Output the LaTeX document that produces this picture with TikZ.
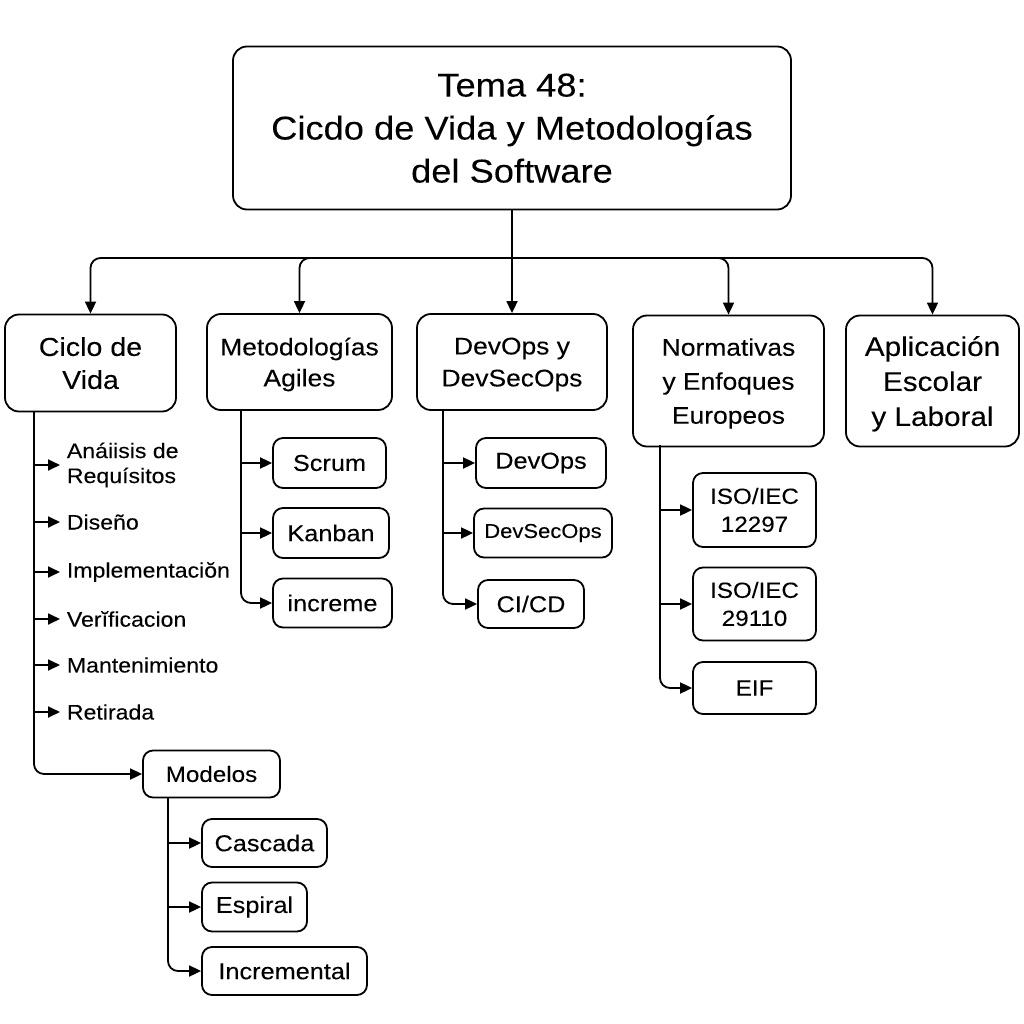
\documentclass[tikz,border=0pt]{standalone}
\usepackage{fontspec}
\setmainfont{Liberation Sans}[FakeStretch=1.1,FakeBold=0.1]
\usetikzlibrary{arrows.meta}

\begin{document}
\begin{tikzpicture}[x=1pt,y=-1pt,line width=1.8pt,
  >={Triangle[length=12pt,width=11pt]},
  topbox/.style={draw,rounded corners=14pt,align=center,inner sep=2pt,text depth=0pt},
  subbox/.style={draw,rounded corners=10pt,align=center,inner sep=2pt,font=\fontsize{23}{28}\selectfont},
  item/.style={anchor=west,align=left,inner sep=6pt,font=\fontsize{21}{25}\selectfont}]
\useasboundingbox (0,0) rectangle (1024,1024);

\node[topbox,minimum width=558pt,minimum height=163pt,font=\fontsize{33}{43}\selectfont] (tema) at (512,128) {Tema 48:\\Cicdo de Vida y Metodologías\\del Software};

\node[topbox,minimum width=171pt,minimum height=97pt,font=\fontsize{26}{33}\selectfont] (ciclo) at (90.5,363) {Ciclo de\\Vida};
\node[topbox,minimum width=185pt,minimum height=96pt,font=\fontsize{24}{31}\selectfont] (metod) at (299.5,362) {Metodologías\\Agiles};
\node[topbox,minimum width=190pt,minimum height=96pt,font=\fontsize{24}{32}\selectfont] (devsec) at (512,362) {DevOps y\\DevSecOps};
\node[topbox,minimum width=191pt,minimum height=131pt,font=\fontsize{24}{34}\selectfont] (normas) at (728.5,381) {Normativas\\y Enfoques\\Europeos};
\node[topbox,minimum width=173pt,minimum height=131pt,font=\fontsize{27}{35}\selectfont] (aplic) at (932.5,381) {Aplicación\\Escolar\\y Laboral};

\coordinate (hub) at (512,258);
\draw (tema) -- (hub);
\draw[->,rounded corners=10pt] (hub) -| (ciclo);
\draw[->,rounded corners=10pt] (hub) -| (metod);
\draw[->] (hub) -- (devsec);
\draw[->,rounded corners=10pt] (hub) -| (normas);
\draw[->,rounded corners=10pt] (hub) -| (aplic);

\node[item] (analisis) at (60,465) {Anáiisis de\\Requísitos};
\node[item] (diseno) at (60,522) {Diseño};
\node[item] (implem) at (60,572) {Implementaciŏn};
\node[item] (verif) at (60,619) {Verĭficacion};
\node[item] (mant) at (60,665) {Mantenimiento};
\node[item] (retir) at (60,712) {Retirada};
\node[subbox,minimum width=137pt,minimum height=47pt,font=\fontsize{22}{26}\selectfont] (modelos) at (211.5,774) {Modelos};

\coordinate (cv) at (34,411);
\draw[->,rounded corners=10pt] (cv) |- (modelos);
\foreach \n in {analisis,diseno,implem,verif,mant,retir}
  \draw[->] (cv |- \n.west) -- (\n.west);

\node[subbox,minimum width=125pt,minimum height=48pt] (cascada) at (264.5,843) {Cascada};
\node[subbox,minimum width=105pt,minimum height=49pt] (espiral) at (254.5,907) {Espiral};
\node[subbox,minimum width=165pt,minimum height=48pt] (increm) at (284.5,971) {Incremental};

\coordinate (md) at (168,797);
\draw[->,rounded corners=10pt] (md) |- (increm);
\foreach \n in {cascada,espiral}
  \draw[->] (md |- \n.west) -- (\n.west);

\node[subbox,minimum width=113pt,minimum height=50pt] (scrum) at (329.5,463) {Scrum};
\node[subbox,minimum width=116pt,minimum height=50pt] (kanban) at (331,533) {Kanban};
\node[subbox,minimum width=119pt,minimum height=49pt] (incr) at (332.5,603) {increme};

\coordinate (mt) at (241,410);
\draw[->,rounded corners=10pt] (mt) |- (incr);
\foreach \n in {scrum,kanban}
  \draw[->] (mt |- \n.west) -- (\n.west);

\node[subbox,minimum width=130pt,minimum height=50pt] (devops) at (541,463) {DevOps};
\node[subbox,minimum width=138pt,minimum height=49pt,font=\fontsize{20}{24}\selectfont] (dso) at (543,533) {DevSecOps};
\node[subbox,minimum width=106pt,minimum height=48pt] (cicd) at (531,604) {CI/CD};

\coordinate (dv) at (443,410);
\draw[->,rounded corners=10pt] (dv) |- (cicd);
\foreach \n in {devops,dso}
  \draw[->] (dv |- \n.west) -- (\n.west);

\node[subbox,minimum width=123pt,minimum height=74pt,font=\fontsize{22}{28}\selectfont] (iso1) at (754.5,510) {ISO/IEC\\12297};
\node[subbox,minimum width=123pt,minimum height=73pt,font=\fontsize{22}{28}\selectfont] (iso2) at (754.5,604) {ISO/IEC\\29110};
\node[subbox,minimum width=123pt,minimum height=52pt,font=\fontsize{22}{28}\selectfont] (eif) at (754.5,688) {EIF};

\coordinate (nm) at (660,445);
\draw[->,rounded corners=10pt] (nm) |- (eif);
\foreach \n in {iso1,iso2}
  \draw[->] (nm |- \n.west) -- (\n.west);

\end{tikzpicture}
\end{document}
